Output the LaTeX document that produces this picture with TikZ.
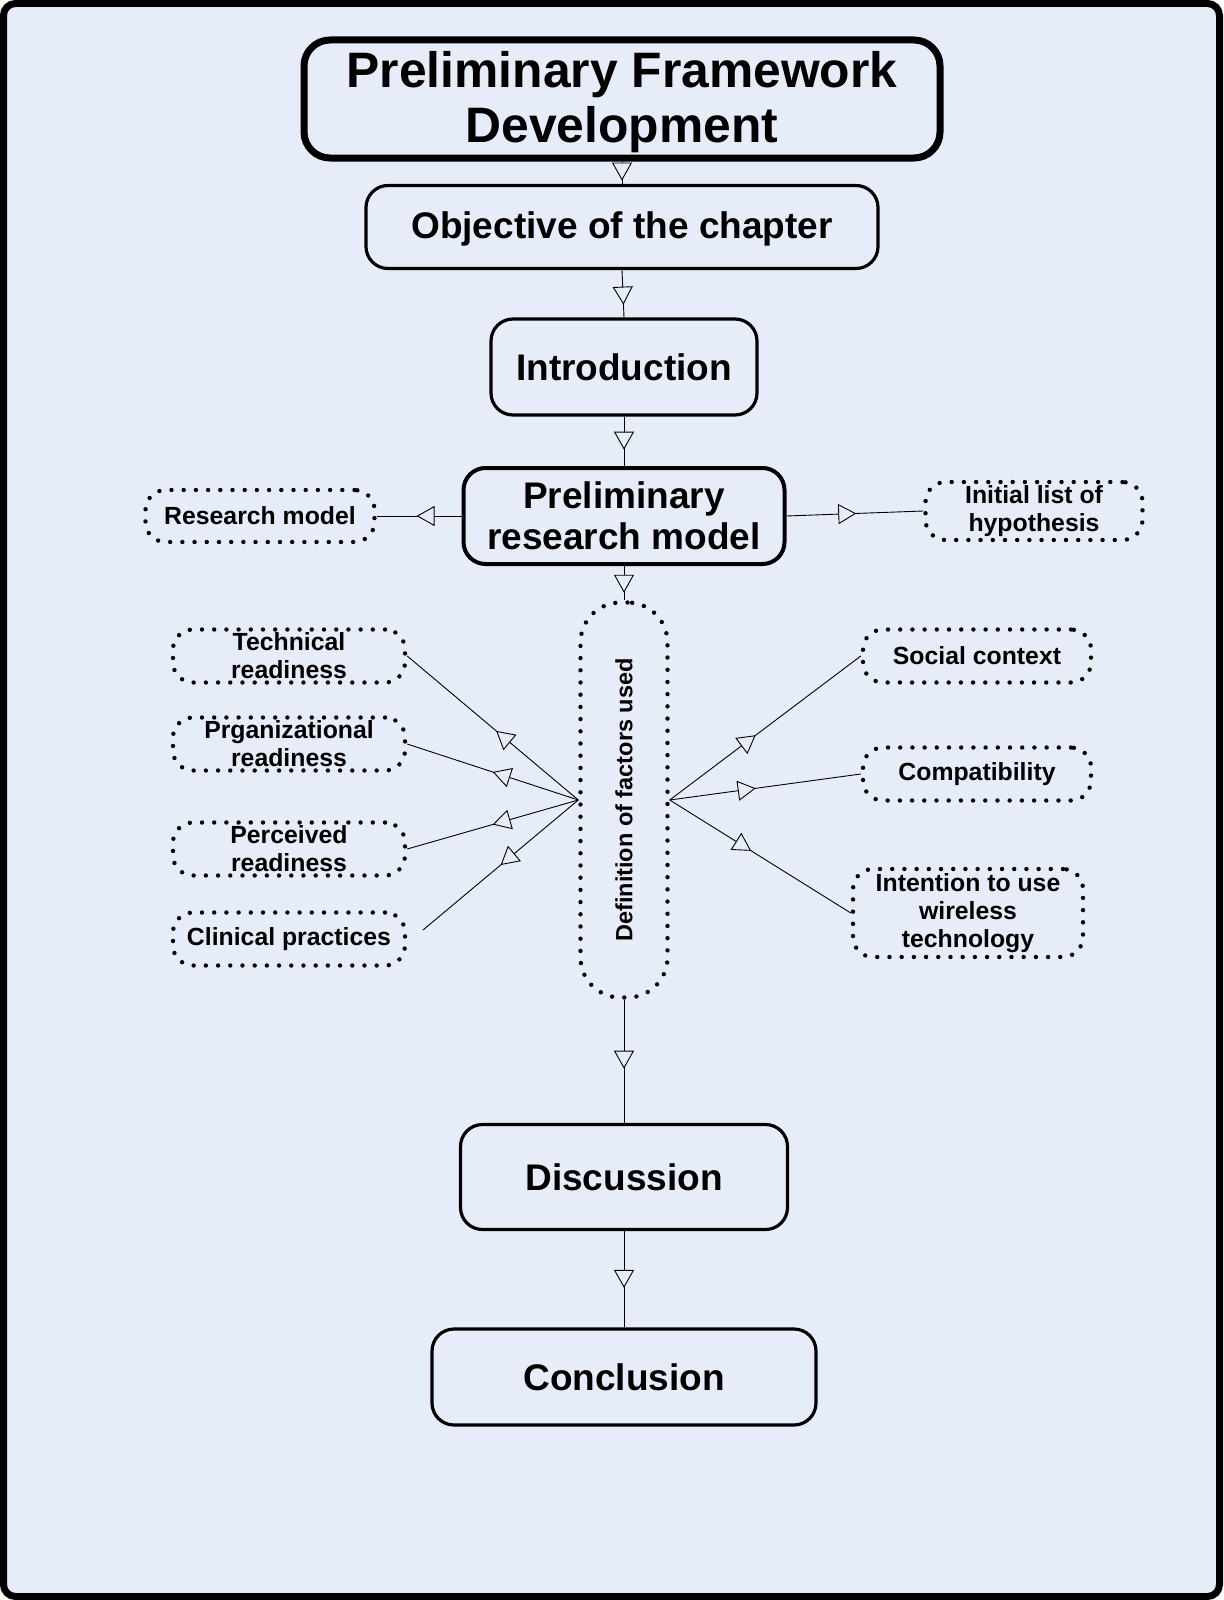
\documentclass[tikz,border=0pt]{standalone}
\usepackage{fontspec}
\setmainfont{Liberation Sans}
\usetikzlibrary{arrows.meta,decorations.markings,calc}

\definecolor{pagebg}{RGB}{231,237,248}

\tikzset{
  flowbox/.style={draw, line width=3.2pt, rounded corners=22pt, align=center,
    font=\bfseries\fontsize{37}{41}\selectfont, inner sep=0pt},
  dotbox/.style={draw, line width=4.4pt, dash pattern=on 0pt off 12.2pt, line cap=round,
    rounded corners=20pt, align=center, font=\bfseries\fontsize{24.8}{28}\selectfont, inner sep=0pt},
  link/.style={draw, line width=0.9pt},
  tipat/.style={postaction={decorate}, decoration={markings,
    mark=at position #1 with {\arrow{Triangle[fill=pagebg, length=18pt, width=20pt, line width=0.9pt]}}}},
}

\begin{document}
\begin{tikzpicture}[x=1pt, y=-1pt]
\useasboundingbox (0,0) rectangle (1223,1600);

% page frame
\draw[line width=7pt, fill=pagebg, rounded corners=12pt] (3.5,3.5) rectangle (1219.5,1596.5);

% main column
\node[flowbox, line width=7pt, rounded corners=26pt, minimum width=636, minimum height=118,
  font=\bfseries\fontsize{49.8}{55}\selectfont, text depth=4pt] (title) at (622,99)
  {Preliminary Framework\\Development};
\node[flowbox, minimum width=512, minimum height=83, text depth=3pt] (obj) at (622,227) {Objective of the chapter};
\node[flowbox, minimum width=266, minimum height=96] (intro) at (624,367) {Introduction};
\node[flowbox, line width=4pt, minimum width=321, minimum height=96] (prelim) at (624,516)
  {Preliminary\\research model};
\node[dotbox, rounded corners=40pt, minimum width=87, minimum height=395] (def) at (624,800)
  {\rotatebox{90}{\fontsize{23.5}{28}\selectfont Definition of factors used}};
\node[flowbox, minimum width=327, minimum height=105] (disc) at (624,1177) {Discussion};
\node[flowbox, minimum width=384, minimum height=96] (conc) at (624,1377) {Conclusion};

% side notes of the research model
\node[dotbox, minimum width=229, minimum height=52] (rm) at (260,516) {Research model};
\node[dotbox, minimum width=217, minimum height=58] (hyp) at (1034,511) {Initial list of\\hypothesis};

% factors, left
\node[dotbox, minimum width=232, minimum height=53] (tech) at (289,656) {Technical\\readiness};
\node[dotbox, minimum width=232, minimum height=53] (org) at (289,744) {Prganizational\\readiness};
\node[dotbox, minimum width=232, minimum height=53] (perc) at (289,849) {Perceived\\readiness};
\node[dotbox, minimum width=232, minimum height=53] (clin) at (289,939) {Clinical practices};
\coordinate (clinend) at (423,930);

% factors, right
\node[dotbox, minimum width=228, minimum height=53] (soc) at (977,656) {Social context};
\node[dotbox, minimum width=228, minimum height=53] (comp) at (977,774) {Compatibility};
\node[dotbox, minimum width=230, minimum height=88] (intent) at (968,913)
  {Intention to use\\wireless\\technology};

% connectors
\draw[link, tipat=0.85] (title.south) -- (obj.north);
\draw[link, tipat=0.73] (obj.south) -- (intro.north);
\draw[link, tipat=0.67] (intro.south) -- (prelim.north);
\draw[link, tipat=0.78] (prelim.south) -- (def.north);
\draw[link, tipat=0.53] (prelim.west) -- (rm.east);
\draw[link, tipat=0.51] (prelim.east) -- (hyp.west);

\draw[link, tipat=0.48] (def.west) -- (tech.east);
\draw[link, tipat=0.5] (def.west) -- (org.east);
\draw[link, tipat=0.5] (def.west) -- (perc.east);
\draw[link, tipat=0.5] (def.west) -- (clinend);

\draw[link, tipat=0.45] (def.east) -- (soc.west);
\draw[link, tipat=0.45] (def.east) -- (comp.west);
\draw[link, tipat=0.45] (def.east) -- (intent.west);

\draw[link, tipat=0.56] (def.south) -- (disc.north);
\draw[link, tipat=0.59] (disc.south) -- (conc.north);
\end{tikzpicture}
\end{document}
